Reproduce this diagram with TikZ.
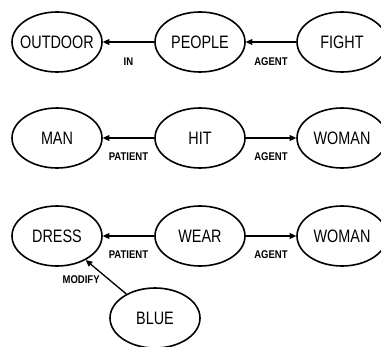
\documentclass[tikz,border=0pt]{standalone}
\usepackage{fontspec}
\usepackage{tikz}
\usetikzlibrary{arrows.meta,shapes.geometric}
\newfontfamily\conceptfont[FakeStretch=0.8]{Liberation Sans}
\newfontfamily\relfont[FakeStretch=0.85]{Liberation Sans}

\begin{document}
\begin{tikzpicture}[
  x=0.75pt, y=-0.75pt,
  concept/.style={ellipse, draw=black, line width=1.2pt, fill=white,
                  minimum width=67.5pt, minimum height=45pt,
                  inner xsep=-5pt, inner ysep=0pt,
                  font=\conceptfont\fontsize{13.5}{15}\selectfont},
  rel/.style={inner sep=0pt, font=\relfont\bfseries\fontsize{8.4}{9}\selectfont},
  arr/.style={-{Triangle[length=5pt,width=4.5pt]}, line width=1pt},
]
\useasboundingbox (0,0) rectangle (381,346);

% ---- concepts ----
\node[concept] (outdoor) at (57,42)  {OUTDOOR};
\node[concept] (people)  at (200,42) {PEOPLE};
\node[concept] (fight)   at (342,42) {FIGHT};

\node[concept] (man)     at (57,138)  {MAN};
\node[concept] (hit)     at (200,138) {HIT};
\node[concept] (womanA)  at (342,138) {WOMAN};

\node[concept] (dress)   at (57,236)  {DRESS};
\node[concept] (wear)    at (200,236) {WEAR};
\node[concept] (womanB)  at (342,236) {WOMAN};
\node[concept] (blue)    at (155,318) {BLUE};

% ---- relations ----
\draw[arr] (people) -- node[rel, below=11pt] {IN} (outdoor);
\draw[arr] (fight) -- node[rel, below=11pt] {AGENT} (people);

\draw[arr] (hit) -- node[rel, below=10.5pt] {PATIENT} (man);
\draw[arr] (hit) -- node[rel, below=10.5pt] {AGENT} (womanA);

\draw[arr] (wear) -- node[rel, below=10.5pt] {PATIENT} (dress);
\draw[arr] (wear) -- node[rel, below=10.5pt] {AGENT} (womanB);
\draw[arr] (blue) -- node[rel, pos=0.41, left=7pt] {MODIFY} (dress);
\end{tikzpicture}
\end{document}
